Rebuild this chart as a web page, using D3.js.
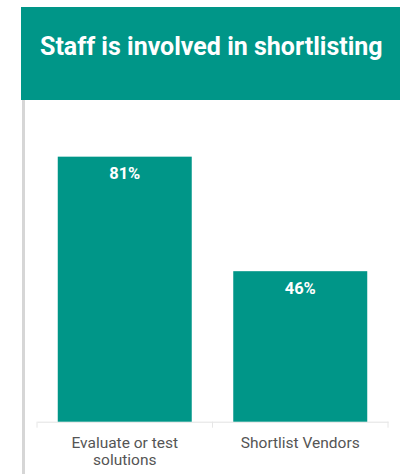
<!DOCTYPE html>
<html>
<head>
<meta charset="utf-8">
<script src="https://cdn.jsdelivr.net/npm/d3@7"></script>
<style>
  html, body { margin: 0; padding: 0; background: #fff; }
  svg { display: block; font-family: Roboto, "Noto Sans", sans-serif; }
</style>
</head>
<body>
<svg id="chart" width="400" height="474"></svg>
<script>
// Chart content
const title = "Staff is involved in shortlisting";
const categories = ["Evaluate or test solutions", "Shortlist Vendors"];
const categoryLines = [["Evaluate or test", "solutions"], ["Shortlist Vendors"]];
const values = [81, 46];
const valueLabels = ["81%", "46%"];

const W = 400, H = 474;
const teal = "#009688";
const svg = d3.select("#chart");

// Card edge on the left
svg.append("rect")
  .attr("x", 22).attr("y", 100)
  .attr("width", 3).attr("height", H - 100)
  .attr("fill", "#d6d6d6");

// Header band
svg.append("rect")
  .attr("x", 21).attr("y", 7)
  .attr("width", W - 21).attr("height", 93)
  .attr("fill", teal);

const titleText = svg.append("text")
  .attr("x", 40).attr("y", 55)
  .attr("fill", "#fff")
  .attr("font-size", 25)
  .attr("font-weight", 700)
  .text(title);
// keep the title within its header span
const tw = titleText.node().getComputedTextLength();
if (tw > 343) titleText.attr("textLength", 343).attr("lengthAdjust", "spacingAndGlyphs");

// Scales
const x = d3.scaleBand()
  .domain(categories)
  .range([37, 388])
  .paddingInner(0.2365)
  .paddingOuter(0.11825);

const y = d3.scaleLinear()
  .domain([0, 100])
  .range([421.7, 94.5]);

// Baseline axis
const axis = d3.axisBottom(x).tickSize(0).tickFormat("");
const gAxis = svg.append("g")
  .attr("transform", `translate(0,${y(0)})`)
  .call(axis);
gAxis.select(".domain").attr("stroke", "#e2e2e2").attr("stroke-width", 1);

// faint separators at band edges
svg.selectAll("line.sep")
  .data([37, (x(categories[0]) + x.bandwidth() + x(categories[1])) / 2, 388])
  .join("line")
  .attr("class", "sep")
  .attr("x1", d => d).attr("x2", d => d)
  .attr("y1", y(0)).attr("y2", y(0) + 6)
  .attr("stroke", "#e6e6e6");

// Bars
svg.selectAll("rect.bar")
  .data(values)
  .join("rect")
  .attr("class", "bar")
  .attr("x", (d, i) => x(categories[i]))
  .attr("y", d => y(d))
  .attr("width", x.bandwidth())
  .attr("height", d => y(0) - y(d))
  .attr("fill", teal);

// Value labels
svg.selectAll("text.val")
  .data(values)
  .join("text")
  .attr("class", "val")
  .attr("x", (d, i) => x(categories[i]) + x.bandwidth() / 2)
  .attr("y", d => y(d) + 22.5)
  .attr("text-anchor", "middle")
  .attr("fill", "#fff")
  .attr("font-size", 16.5)
  .attr("font-weight", 700)
  .text((d, i) => valueLabels[i]);

// Category labels
categories.forEach((c, i) => {
  const t = svg.append("text")
    .attr("x", x(c) + x.bandwidth() / 2)
    .attr("y", 447.5)
    .attr("text-anchor", "middle")
    .attr("fill", "#555")
    .attr("font-size", 15.5);
  categoryLines[i].forEach((line, j) => {
    t.append("tspan")
      .attr("x", x(c) + x.bandwidth() / 2)
      .attr("dy", j === 0 ? 0 : 17.5)
      .text(line);
  });
});
</script>
</body>
</html>
